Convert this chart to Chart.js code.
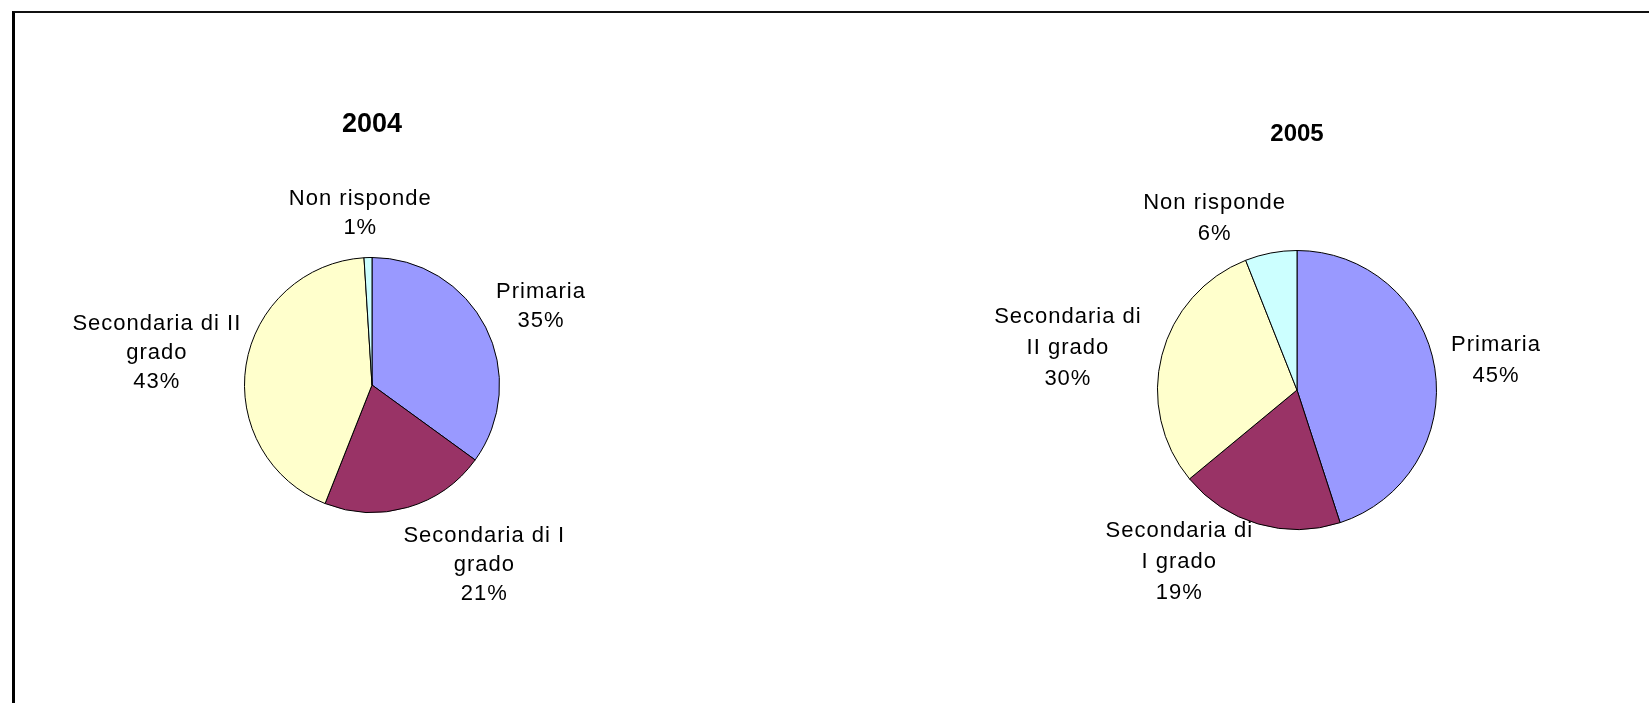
<!DOCTYPE html>
<html>
<head>
<meta charset="utf-8">
<script src="https://cdn.jsdelivr.net/npm/chart.js@4"></script>
<style>
  html, body { margin: 0; padding: 0; background: #fff; }
  body { width: 1649px; height: 703px; position: relative; overflow: hidden; }
  .frame { position: absolute; left: 12px; top: 11px; right: 0; bottom: 0;
           border-top: 2px solid #111; border-left: 3px solid #000; }
  canvas { position: absolute; left: 0; top: 0; }
</style>
</head>
<body>
<div class="frame"></div>
<canvas id="chart2004" width="1649" height="703"></canvas>
<canvas id="chart2005" width="1649" height="703"></canvas>
<script>
// categorie e valori (percentuali)
const categories = ['Primaria', 'Secondaria di I grado', 'Secondaria di II grado', 'Non risponde'];
const values2004 = [35, 21, 43, 1];
const values2005 = [45, 19, 30, 6];
// etichette come appaiono sul grafico (a capo)
const labels2004 = [['Primaria'], ['Secondaria di I', 'grado'], ['Secondaria di II', 'grado'], ['Non risponde']];
const labels2005 = [['Primaria'], ['Secondaria di', 'I grado'], ['Secondaria di', 'II grado'], ['Non risponde']];

const colors = ['#9999FF', '#993366', '#FFFFCC', '#CCFFFF'];

// disegna le etichette fuori dalla torta
const outLabels = {
  id: 'outLabels',
  afterDatasetsDraw(chart, args, opts) {
    const ctx = chart.ctx;
    const meta = chart.getDatasetMeta(0);
    const data = chart.data.datasets[0].data;
    ctx.save();
    ctx.font = opts.font;
    ctx.letterSpacing = '1px';
    ctx.fillStyle = '#000';
    ctx.textAlign = 'center';
    ctx.textBaseline = 'middle';
    meta.data.forEach((arc, i) => {
      const p = arc.getProps(['x', 'y', 'startAngle', 'endAngle', 'outerRadius'], true);
      const mid = (p.startAngle + p.endAngle) / 2;
      const dx = Math.cos(mid), dy = Math.sin(mid);
      const lines = opts.lines[i].concat([data[i] + '%']);
      const w = Math.max(...lines.map(l => ctx.measureText(l).width));
      const h = lines.length * opts.lineHeight;
      const r = p.outerRadius + opts.gap;
      const nudge = opts.nudge[i];
      const cx = p.x + dx * r + dx * w / 2 + nudge[0];
      const cy = p.y + dy * r + dy * h / 2 + nudge[1];
      lines.forEach((l, k) => {
        ctx.fillText(l, cx, cy - h / 2 + opts.lineHeight * (k + 0.5));
      });
    });
    ctx.restore();
  }
};

function makePie(id, values, lines, title, titleSize, padding, lineHeight, nudge) {
  const ctx = document.getElementById(id).getContext('2d');
  return new Chart(ctx, {
    type: 'pie',
    data: {
      labels: categories,
      datasets: [{
        data: values,
        backgroundColor: colors,
        borderColor: '#000',
        borderWidth: 1
      }]
    },
    options: {
      responsive: false,
      animation: false,
      layout: { padding: padding.layout },
      plugins: {
        legend: { display: false },
        tooltip: { enabled: false },
        title: {
          display: true,
          text: title,
          color: '#000',
          font: { family: '"Liberation Sans", Arial, sans-serif', size: titleSize, weight: 'bold' },
          padding: { top: 0, bottom: padding.title }
        },
        outLabels: {
          font: '22px "Liberation Sans", Arial, sans-serif',
          lines: lines,
          lineHeight: lineHeight,
          gap: 15,
          nudge: nudge
        }
      }
    },
    plugins: [outLabels]
  });
}

makePie('chart2004', values2004, labels2004, '2004', 27,
  { layout: { left: 244, right: 1149, top: 108, bottom: 190 }, title: 116.6 },
  29, [[2, -1], [50, 1], [9, -3], [-5, 0]]);

makePie('chart2005', values2005, labels2005, '2005', 24,
  { layout: { left: 1157, right: 212, top: 119.6, bottom: 173 }, title: 101.6 },
  31, [[2, -1], [-54, -21], [-8, 8], [-40, 11]]);
</script>
</body>
</html>
